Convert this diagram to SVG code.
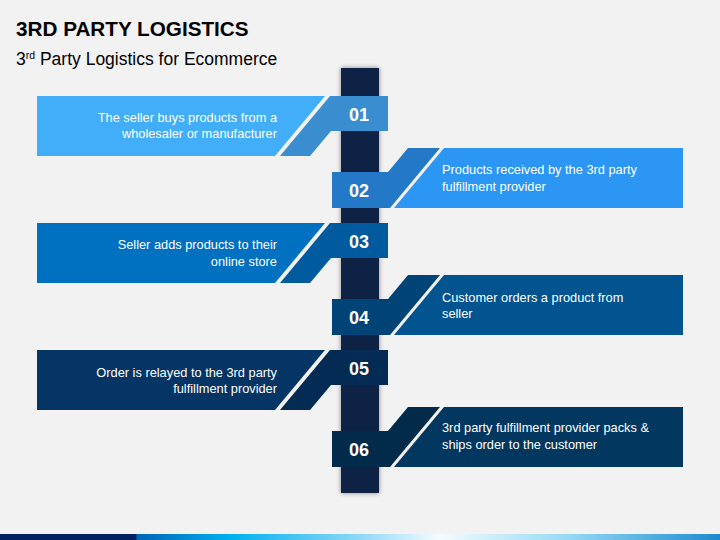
<svg xmlns="http://www.w3.org/2000/svg" width="720" height="540" viewBox="0 0 720 540">
<defs>
<style>
.title{font-family:"Liberation Sans",Arial,sans-serif;font-weight:bold;font-size:20.7px;fill:#000}
.sub{font-family:"Liberation Sans",Arial,sans-serif;font-size:17.5px;fill:#000}
.num{font-family:"Liberation Sans",Arial,sans-serif;font-weight:bold;font-size:18px;fill:#fff;text-anchor:middle}
.txt{font-family:"Liberation Sans",Arial,sans-serif;font-size:12.8px;fill:#fff}
.r{text-anchor:end}
</style>
<filter id="sh" x="-50%" y="-5%" width="200%" height="110%">
<feGaussianBlur in="SourceAlpha" stdDeviation="2.5"/>
<feOffset dy="0" result="b"/>
<feFlood flood-color="#000" flood-opacity="0.45"/>
<feComposite in2="b" operator="in"/>
<feMerge><feMergeNode/><feMergeNode in="SourceGraphic"/></feMerge>
</filter>
<linearGradient id="strip" x1="0" y1="0" x2="1" y2="0">
<stop offset="0" stop-color="#002060"/>
<stop offset="0.189" stop-color="#002060"/>
<stop offset="0.19" stop-color="#0064B8"/>
<stop offset="0.32" stop-color="#00B0F0"/>
<stop offset="0.5" stop-color="#8ED8F6"/>
<stop offset="0.61" stop-color="#F5FBFE"/>
<stop offset="0.78" stop-color="#9ADCF5"/>
<stop offset="1" stop-color="#1C8AD0"/>
</linearGradient>
</defs>
<rect width="720" height="540" fill="#F2F2F2"/>
<text class="title" x="16" y="36">3RD PARTY LOGISTICS</text>
<text class="sub" x="16" y="65">3<tspan font-size="10.5" dy="-6">rd</tspan><tspan dy="6"> Party Logistics for Ecommerce</tspan></text>
<rect id="bar" x="341" y="68" width="38" height="425" fill="#0A2444" filter="url(#sh)"/>
<g id="step1">
<polygon points="37,96 325,96 275,156 37,156" fill="#42AEF9"/>
<polygon points="330,96 388,96 388,131 331,131 310,156 280,156" fill="#3A8ED0"/>
<text class="num" x="359" y="121">01</text>
<text class="txt r" x="277" y="122">The seller buys products from a</text>
<text class="txt r" x="277" y="138">wholesaler or manufacturer</text>
</g>
<g id="step2">
<polygon points="444,148 683,148 683,208 394,208" fill="#2C96F4"/>
<polygon points="332,172 388,172 408,148 440,148 390,208 332,208" fill="#2478C8"/>
<text class="num" x="359" y="197">02</text>
<text class="txt" x="442" y="174">Products received by the 3rd party</text>
<text class="txt" x="442" y="191">fulfillment provider</text>
</g>
<g id="step3">
<polygon points="37,223 325,223 275,283 37,283" fill="#0070C0"/>
<polygon points="330,223 388,223 388,258 331,258 310,283 280,283" fill="#005A9E"/>
<text class="num" x="359" y="248">03</text>
<text class="txt r" x="277" y="249">Seller adds products to their</text>
<text class="txt r" x="277" y="266">online store</text>
</g>
<g id="step4">
<polygon points="444,275 683,275 683,335 394,335" fill="#01548F"/>
<polygon points="332,299 388,299 408,275 440,275 390,335 332,335" fill="#004477"/>
<text class="num" x="359" y="324">04</text>
<text class="txt" x="442" y="302">Customer orders a product from</text>
<text class="txt" x="442" y="318">seller</text>
</g>
<g id="step5">
<polygon points="37,350 325,350 275,410 37,410" fill="#043565"/>
<polygon points="330,350 388,350 388,385 331,385 310,410 280,410" fill="#032B53"/>
<text class="num" x="359" y="375">05</text>
<text class="txt r" x="277" y="377">Order is relayed to the 3rd party</text>
<text class="txt r" x="277" y="393">fulfillment provider</text>
</g>
<g id="step6">
<polygon points="444,407 683,407 683,467 394,467" fill="#02375F"/>
<polygon points="332,431 388,431 408,407 440,407 390,467 332,467" fill="#012A4B"/>
<text class="num" x="359" y="456">06</text>
<text class="txt" x="442" y="432">3rd party fulfillment provider packs &amp;</text>
<text class="txt" x="442" y="449">ships order to the customer</text>
</g>
<g id="connectors"/>
<rect x="0" y="534" width="720" height="6" fill="url(#strip)"/>
</svg>
